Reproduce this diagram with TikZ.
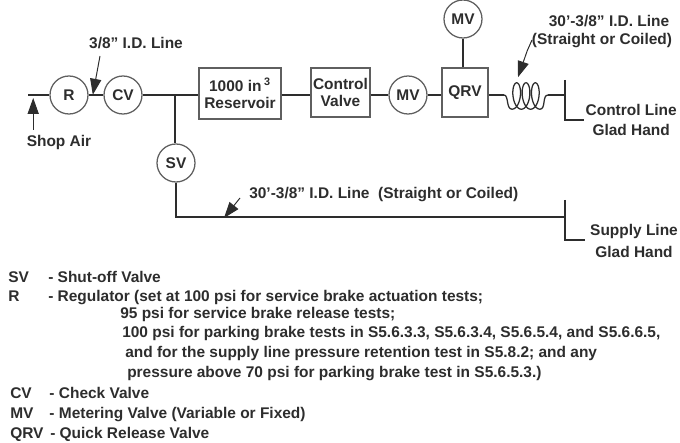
\documentclass[tikz,border=0pt]{standalone}
\usepackage{fontspec}
\setmainfont{Liberation Sans}
\usepackage{xcolor}
\definecolor{inkgray}{RGB}{45,45,45}
\definecolor{rimgray}{RGB}{95,95,95}
\usetikzlibrary{arrows.meta}

\newcommand{\labelfont}{\fontsize{11}{12.5}\selectfont\bfseries}

\tikzset{
  valve/.style={draw=rimgray, circle, line width=0.9pt, minimum size=0.95cm, inner sep=0pt,
                font=\labelfont, text=inkgray},
  unitbox/.style={draw=rimgray, line width=0.9pt, inner sep=0pt, align=center,
                  font=\labelfont, text=inkgray},
  pipe/.style={draw=inkgray, line width=1.1pt},
  callout/.style={draw=inkgray, line width=0.7pt, -{Triangle[length=4mm, width=2.8mm]}},
  lbl/.style={font=\labelfont, text=inkgray, align=center},
  legendtext/.style={font=\labelfont, text=inkgray, anchor=base west, inner sep=0pt}
}

\begin{document}
\begin{tikzpicture}

\useasboundingbox (0,0) rectangle (17,11.05);

% === Top line: shop air to quick release ===
\node[valve] (reg) at (1.725,8.675) {R};
\node[valve] (check) at (3.075,8.675) {CV};
\node[unitbox, minimum width=2.05cm, minimum height=1.275cm] (res) at (6.0,8.7125) {1000 in\,\textsuperscript{3}\\Reservoir};
\node[unitbox, minimum width=1.475cm, minimum height=1.225cm] (ctlvalve) at (8.5125,8.7375) {Control\\Valve};
\node[valve] (meter) at (10.2,8.675) {MV};
\node[unitbox, minimum width=1.15cm, minimum height=1.225cm] (qrv) at (11.625,8.7375) {QRV};
\node[valve] (topmeter) at (11.575,10.575) {MV};

\coordinate (inlet) at (0.7,8.675);
\coordinate (junction) at (4.375,8.675);
\coordinate (coilin) at (12.6,8.675);
\coordinate (coilfirst) at (12.8,8.32);
\coordinate (coillast) at (13.5,8.32);
\coordinate (coilout) at (13.7,8.675);

\draw[pipe] (inlet) -- (reg);
\draw[pipe] (reg) -- (check);
\draw[pipe] (check) -- (check -| res.west);
\draw[pipe] (meter -| res.east) -- (meter -| ctlvalve.west);
\draw[pipe] (meter -| ctlvalve.east) -- (meter);
\draw[pipe] (meter) -- (meter -| qrv.west);
\draw[pipe] (topmeter) -- (topmeter |- qrv.north);

% coil
\draw[pipe] (meter -| qrv.east) -- (coilin);
\draw[pipe, line width=0.9pt] (coilin) .. controls (12.72,8.675) and (12.65,8.32) .. (coilfirst);
\draw[pipe, line width=0.9pt] plot[domain=0:1080, samples=145] ({12.8+0.7*\x/1080+0.15*sin(\x)},{8.65-0.33*cos(\x)});
\draw[pipe, line width=0.9pt] (coillast) .. controls (13.65,8.32) and (13.55,8.675) .. (coilout);

% === Control line glad hand ===
\coordinate (ctlpipe) at (14.125,8.675);
\coordinate (ctltop) at (14.125,9.05);
\coordinate (ctlbot) at (14.125,8.05);
\coordinate (ctlfoot) at (14.6,8.05);
\draw[pipe] (coilout) -- (ctlpipe);
\draw[pipe] (ctltop) -- (ctlbot) -- (ctlfoot);
\node[lbl] (ctllabel) at (15.78,8.05) {Control Line\\[1.5pt]Glad Hand};

% === Lower line: shut-off valve to supply ===
\node[valve] (shutoff) at (4.4,6.975) {SV};
\coordinate (corner) at (4.4,5.625);
\coordinate (suppipe) at (14.125,5.625);
\coordinate (suptop) at (14.125,6.05);
\coordinate (supbot) at (14.125,5.05);
\coordinate (supfoot) at (14.625,5.05);
\draw[pipe] (junction) -- (junction |- shutoff.north);
\draw[pipe] (shutoff) -- (corner) -- (suppipe);
\draw[pipe] (suptop) -- (supbot) -- (supfoot);
\node[lbl] (suplabel) at (15.85,5.025) {Supply Line\\[3pt]Glad Hand};

% === Callouts ===
\node[lbl] (shopair) at (1.475,7.475) {Shop Air};
\coordinate (shoptail) at (0.83,7.8);
\coordinate (shoptip) at (0.83,8.6);
\draw[callout] (shoptail) -- (shoptip);

\node[lbl] (idline) at (3.4,9.975) {3/8" I.D. Line};
\coordinate (idtail) at (2.5,9.65);
\coordinate (idtip) at (2.32,8.68);
\draw[callout] (idtail) -- (idtip);

\node[lbl] (coillabel) at (15.05,10.26) {\hspace{0.35cm}30'-3/8" I.D. Line\\(Straight or Coiled)};
\coordinate (coilstart) at (13.3,10.05);
\coordinate (coilbend) at (13.18,9.78);
\coordinate (coiltip) at (12.95,9.12);
\draw[callout] (coilstart) -- (coilbend) -- (coiltip);

\node[lbl, anchor=west, inner sep=0pt] (suptext) at (6.225,6.18) {30'-3/8" I.D. Line\ \ (Straight or Coiled)};
\coordinate (suptail) at (6.0,6.1);
\coordinate (suptip) at (5.6,5.6);
\draw[callout] (suptail) -- (suptip);

% === Legend ===
\node[legendtext] (keysv) at (0.2,3.98) {SV};
\node[legendtext] (txtsv) at (1.2,3.98) {- Shut-off Valve};
\node[legendtext] (keyr) at (0.2,3.52) {R};
\node[legendtext] (txtr) at (1.2,3.52) {- Regulator (set at 100 psi for service brake actuation tests;};
\node[legendtext] (txta) at (3.0,3.09) {95 psi for service brake release tests;};
\node[legendtext] (txtb) at (3.05,2.62) {100 psi for parking brake tests in S5.6.3.3, S5.6.3.4, S5.6.5.4, and S5.6.6.5,};
\node[legendtext] (txtc) at (3.125,2.12) {and for the supply line pressure retention test in S5.8.2; and any};
\node[legendtext] (txtd) at (3.175,1.62) {pressure above 70 psi for parking brake test in S5.6.5.3.)};
\node[legendtext] (keycv) at (0.25,1.08) {CV};
\node[legendtext] (txtcv) at (1.23,1.08) {- Check Valve};
\node[legendtext] (keymv) at (0.25,0.58) {MV};
\node[legendtext] (txtmv) at (1.23,0.58) {- Metering Valve (Variable or Fixed)};
\node[legendtext] (keyqrv) at (0.25,0.1) {QRV};
\node[legendtext] (txtqrv) at (1.25,0.1) {- Quick Release Valve};

\end{tikzpicture}
\end{document}
